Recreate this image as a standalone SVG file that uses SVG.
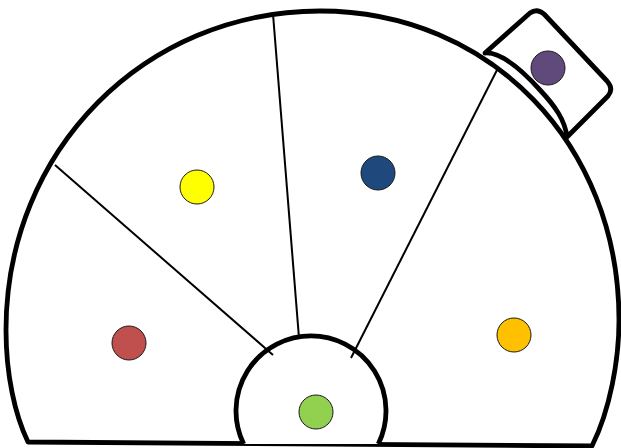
<svg xmlns="http://www.w3.org/2000/svg" width="621" height="448" viewBox="0 0 621 448">
<style>
.outline{fill:#FFFFFF;stroke:#000000;stroke-width:4.8;stroke-linejoin:round}
.div{stroke:#000000;stroke-width:2;fill:none}
.node{stroke:#1a1a1a;stroke-width:1}
</style>
<rect width="621" height="448" fill="#FFFFFF"/>
<g id="dome">
<path class="outline" d="M 28,442 C 15,415 6,375 6,330 C 6,150 145,11 320,11 C 490,11 619,144 619,320 C 619,360 610,410 592,446 Z"/>
</g>
<g id="hub">
<path class="outline" d="M 243.7,444 A 75 75 0 1 1 378.3,444"/>
</g>
<g id="connectors">
<line class="div" x1="55" y1="165" x2="273" y2="355"/>
<line class="div" x1="273" y1="14" x2="299" y2="338"/>
<line class="div" x1="497" y1="70" x2="351" y2="358"/>
</g>
<g id="tab">
<path class="outline" d="M 485,53 L 530,13 Q 537,8 544,14 L 607,81 Q 614,89 608,96 L 567,137 C 565,120 555,106 540,90 C 520,68 500,52 485,53 Z"/>
</g>
<g id="node-red"><circle class="node" cx="129" cy="343" r="17" fill="#C0504D"/></g>
<g id="node-yellow"><circle class="node" cx="197" cy="187" r="17" fill="#FFFF00"/></g>
<g id="node-blue"><circle class="node" cx="378" cy="173" r="17" fill="#1F497D"/></g>
<g id="node-orange"><circle class="node" cx="514" cy="335" r="17" fill="#FFC000"/></g>
<g id="node-green"><circle class="node" cx="316" cy="412" r="17" fill="#92D050"/></g>
<g id="node-purple"><circle class="node" cx="548" cy="68" r="17" fill="#604A7B"/></g>
</svg>
